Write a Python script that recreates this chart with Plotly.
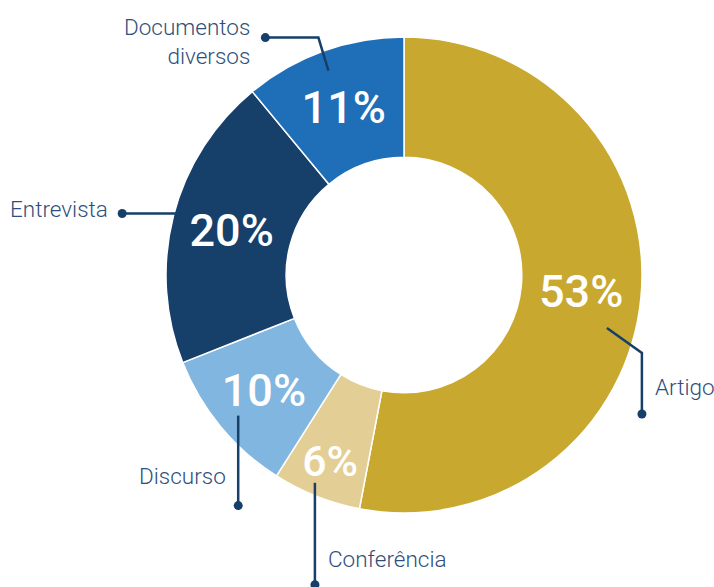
import math
import plotly.graph_objects as go

# ---- data ----
categories = ["Artigo", "Conferência", "Discurso", "Entrevista", "Documentos diversos"]
values = [53, 6, 10, 20, 11]
label_texts = ["Artigo", "Conferência", "Discurso", "Entrevista", "Documentos<br>diversos"]

# ---- style ----
colors = ["#C9A82F", "#E3CF95", "#80B6E0", "#163F6A", "#1F6FB8"]
W, H = 714, 587
CX, CY, R = 404, 275, 238
HOLE = 0.495
LINE_C = "#163F6A"
TEXT_C = "#2F4F7A"

fig = go.Figure()
fig.add_trace(go.Pie(
    labels=categories, values=values, sort=False, direction="clockwise", rotation=0,
    hole=HOLE,
    marker=dict(colors=colors, line=dict(color="white", width=1.5)),
    textinfo="percent", textposition="inside", insidetextorientation="horizontal",
    insidetextfont=dict(color="white", size=45, family="Roboto", weight=500),
    domain=dict(x=[(CX - R) / W, (CX + R) / W], y=[1 - (CY + R) / H, 1 - (CY - R) / H]),
    showlegend=False, hoverinfo="label+percent",
))

# hidden pixel-space axes for leader lines
fig.add_trace(go.Scatter(x=[0, W], y=[0, H], mode="markers", marker=dict(opacity=0),
                         hoverinfo="skip", showlegend=False))

total = sum(values)
cum = 0
mids = []
for v in values:
    mids.append((cum + v / 2) / total * 360)
    cum += v

def polar(angle_deg, r):
    a = math.radians(angle_deg)
    return 404 + r * math.sin(a), 274 - r * math.cos(a)

leaders = [
    # Artigo
    dict(ang=9.5, r=210, steps=[(35, 25), (0, 61)], text=(11, -27), xanchor="left"),
    # Conferência
    dict(ang=1.5, r=227, steps=[(0, 102)], text=(11, -26), xanchor="left"),
    # Discurso
    dict(ang=-0.9, r=218, steps=[(0, 90)], text=(-10, -30), xanchor="right"),
    # Entrevista
    dict(ang=1.0, r=228, steps=[(-62, 0)], text=(-12, -4), xanchor="right"),
    # Documentos
    dict(ang=-0.6, r=217, steps=[(-10, -33), (-53, 0)], text=(-13, 4), xanchor="right"),
]

for i, ld in enumerate(leaders):
    x0, y0 = polar(mids[i] + ld["ang"], ld["r"])
    pts = [(x0, y0)]
    for dx, dy in ld["steps"]:
        pts.append((pts[-1][0] + dx, pts[-1][1] + dy))
    path = "M " + " L ".join(f"{px:.1f},{py:.1f}" for px, py in pts)
    fig.add_shape(type="path", path=path, xref="x", yref="y",
                  line=dict(color=LINE_C, width=2.5))
    ex, ey = pts[-1]
    fig.add_shape(type="circle", xref="x", yref="y", x0=ex - 4.5, x1=ex + 4.5, y0=ey - 4.5, y1=ey + 4.5,
                  fillcolor=LINE_C, line=dict(width=0))
    tx, ty = ex + ld["text"][0], ey + ld["text"][1]
    fig.add_annotation(x=tx, y=ty, xref="x", yref="y", text=label_texts[i], showarrow=False,
                       xanchor=ld["xanchor"], yanchor="middle", align="right" if ld["xanchor"] == "right" else "left",
                       font=dict(family="Roboto", size=22.5, color=TEXT_C, weight=300))

fig.update_layout(
    width=W, height=H, margin=dict(l=0, r=0, t=0, b=0),
    paper_bgcolor="white", plot_bgcolor="rgba(0,0,0,0)",
    xaxis=dict(range=[0, W], visible=False, domain=[0, 1], fixedrange=True),
    yaxis=dict(range=[H, 0], visible=False, domain=[0, 1], fixedrange=True),
)

fig.write_html("out.html", config={"displayModeBar": False},
               post_script="document.body.style.margin='0';document.body.style.overflow='hidden';")
